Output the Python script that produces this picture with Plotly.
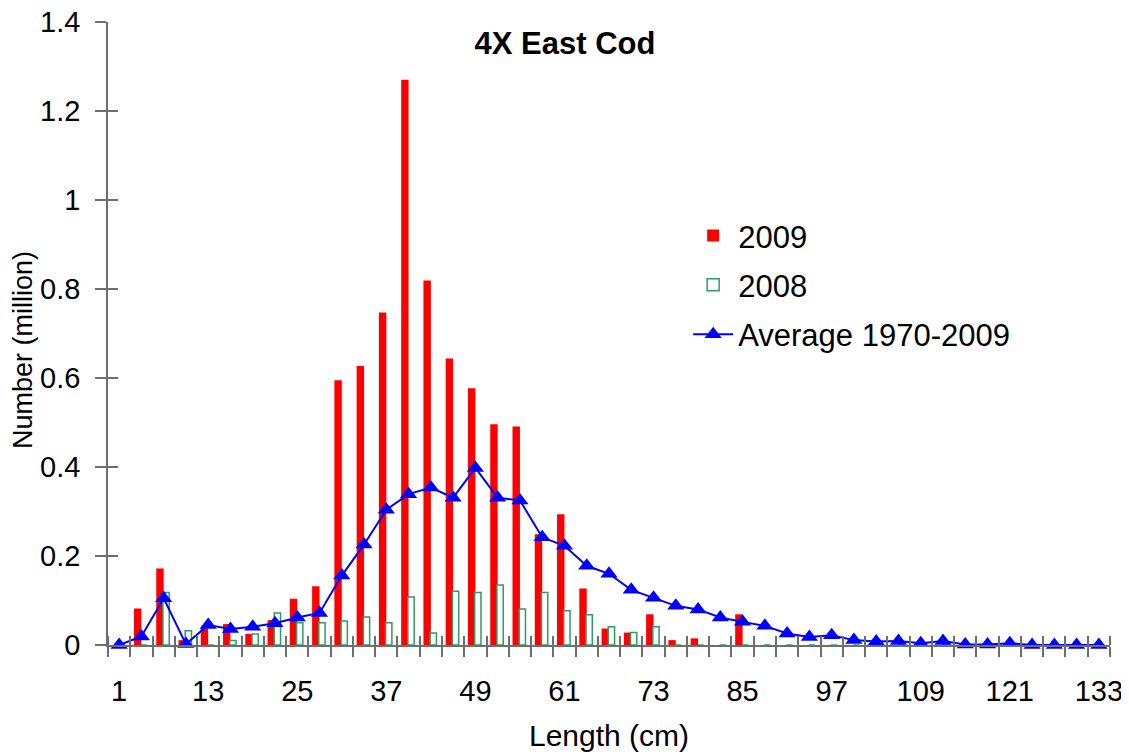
import plotly.graph_objects as go

lengths = list(range(1, 134, 3))
n2009 = [0, 0.082, 0.172, 0.011, 0.037, 0.047, 0.025, 0.056, 0.104, 0.132,
         0.595, 0.627, 0.747, 1.27, 0.819, 0.644, 0.577, 0.496, 0.491, 0.249,
         0.294, 0.127, 0.037, 0.028, 0.069, 0.011, 0.015, 0, 0.069, 0,
         0, 0, 0, 0, 0, 0, 0, 0, 0, 0, 0, 0, 0, 0, 0]
n2008 = [0, 0, 0.118, 0.032, 0, 0.01, 0.025, 0.072, 0.05, 0.05,
         0.054, 0.063, 0.05, 0.108, 0.027, 0.121, 0.118, 0.135, 0.081, 0.118,
         0.077, 0.068, 0.041, 0.028, 0.041, 0, 0, 0, 0, 0,
         0, 0, 0, 0, 0, 0, 0, 0, 0, 0, 0, 0, 0, 0, 0]
avg = [0.0, 0.019, 0.105, 0.002, 0.045, 0.036, 0.041, 0.049, 0.062, 0.072,
       0.156, 0.226, 0.304, 0.339, 0.354, 0.331, 0.398, 0.331, 0.325, 0.242,
       0.223, 0.178, 0.16, 0.124, 0.106, 0.088, 0.08, 0.062, 0.052, 0.043,
       0.026, 0.018, 0.022, 0.011, 0.008, 0.009, 0.004, 0.009, 0.001, 0.001,
       0.004, 0, 0, 0, 0]
x_tick_labels = [str(v) for v in range(1, 134, 12)]

FONT = "Liberation Sans, Arial, sans-serif"
AXIS_COLOR = "#6e6e6e"

# page body has an 8px default margin; the figure is sized to end at the window edge
W, H = 1121, 744

fig = go.Figure()
fig.add_trace(go.Bar(x=lengths, y=n2009, name="2009", offset=-1.0, width=1.0,
                     marker=dict(color="#FF0000", line=dict(width=0)),
                     legendgroup="a"))
fig.add_trace(go.Bar(x=lengths, y=n2008, name="2008", offset=-0.1, width=0.85,
                     marker=dict(color="white", line=dict(color="#339966", width=1.5)),
                     legendgroup="b"))
fig.add_trace(go.Scatter(x=lengths, y=avg, name="Average 1970-2009", mode="lines+markers",
                         line=dict(color="#0000FF", width=2),
                         marker=dict(symbol="triangle-up", size=15, color="#0000FF"),
                         cliponaxis=False, legendgroup="c"))

tick_font = dict(family=FONT, size=29, color="black")
fig.update_layout(
    width=W, height=H,
    margin=dict(l=100, r=19, t=14, b=107, autoexpand=False),
    paper_bgcolor="white", plot_bgcolor="white",
    barmode="overlay",
    showlegend=True,
    title=dict(text="<b>4X East Cod</b>", x=(565 - 8) / W, xref="container", xanchor="center",
               y=1 - 35 / H, yref="container", yanchor="middle",
               font=dict(family=FONT, size=31, color="black")),
    legend=dict(x=0.579, y=0.70, xanchor="left", yanchor="top",
                font=dict(family=FONT, size=31, color="black"),
                traceorder="grouped", tracegroupgap=6,
                bgcolor="rgba(0,0,0,0)", itemwidth=40),
    xaxis=dict(range=[-0.5, 134.5], tickmode="array", automargin=False,
               tickvals=list(range(1, 134, 12)), ticktext=x_tick_labels,
               ticks="", showline=True, linecolor=AXIS_COLOR, linewidth=1.5,
               showgrid=False, zeroline=False, tickfont=tick_font,
               ticklabelstandoff=19, ticklabeloverflow="allow",
               minor=dict(tickmode="linear", tick0=-0.5, dtick=3, ticks="outside",
                          ticklen=10, tickcolor=AXIS_COLOR, tickwidth=1.5, showgrid=False),
               title=dict(text="Length (cm)", font=dict(family=FONT, size=30, color="black"),
                          standoff=21)),
    xaxis2=dict(range=[-0.5, 134.5], overlaying="x", anchor="y", side="bottom",
                showticklabels=False, ticks="", showline=False, showgrid=False,
                zeroline=False, automargin=False,
                minor=dict(tickmode="linear", tick0=-0.5, dtick=3, ticks="inside",
                           ticklen=9, tickcolor=AXIS_COLOR, tickwidth=1.5, showgrid=False)),
    yaxis=dict(range=[0, 1.4], dtick=0.2, tick0=0, ticks="outside", ticklen=11,
               tickcolor=AXIS_COLOR, tickwidth=1.5, showline=True, linecolor=AXIS_COLOR,
               linewidth=1.5, showgrid=False, zeroline=False, tickfont=tick_font,
               ticklabelstandoff=9, automargin=False, ticklabeloverflow="allow"),
    yaxis2=dict(range=[0, 1.4], dtick=0.2, tick0=0, overlaying="y", anchor="x", side="left",
                ticks="inside", ticklen=10, tickcolor=AXIS_COLOR, tickwidth=1.5,
                showticklabels=False, showline=False, showgrid=False, zeroline=False,
                automargin=False),
    annotations=[dict(text="Number (million)", textangle=-90, showarrow=False,
                      xref="paper", yref="paper", x=(15 - 100) / 1002, y=(645 - 350) / 623,
                      xanchor="center", yanchor="middle",
                      font=dict(family=FONT, size=27, color="black"))],
)
# invisible helper trace to activate the overlay axes (ticks only)
fig.add_trace(go.Scatter(x=[lengths[0]], y=[avg[0]], xaxis="x2", yaxis="y2", mode="markers",
                         marker=dict(opacity=0), showlegend=False, hoverinfo="skip"))

fig.write_html("out.html")
